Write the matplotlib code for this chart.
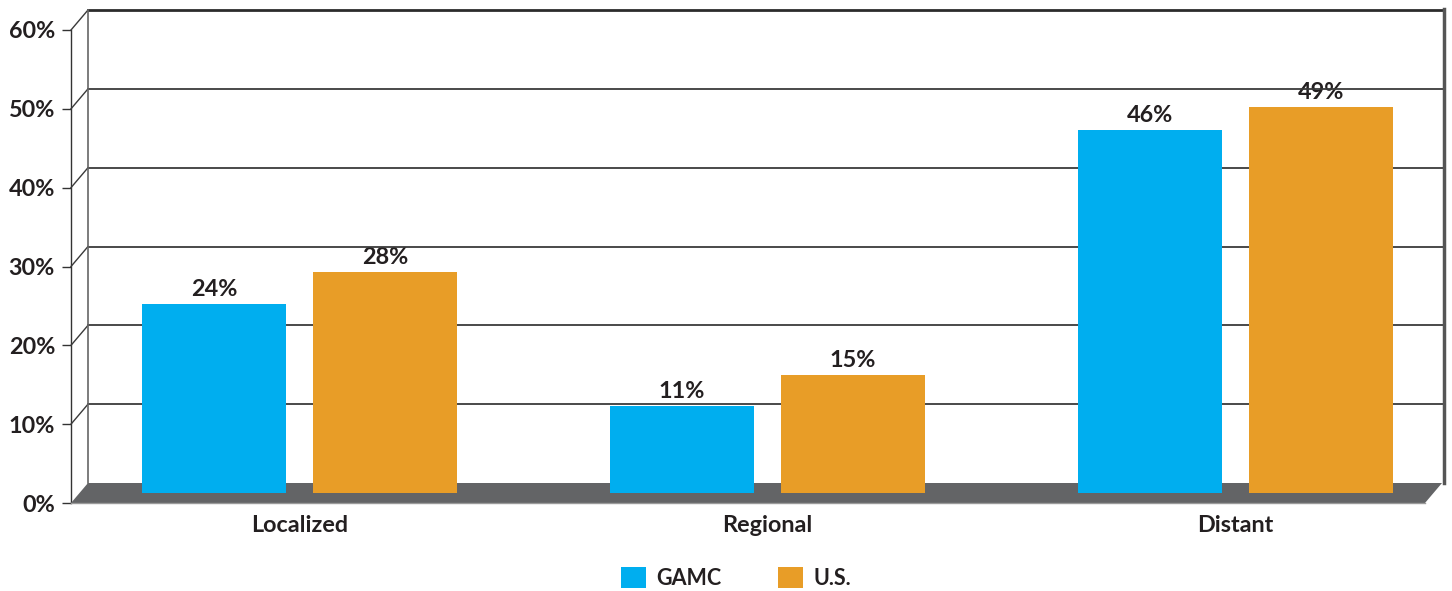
import matplotlib
matplotlib.use("Agg")
import matplotlib.pyplot as plt
from matplotlib.patches import Patch, Polygon
from matplotlib.lines import Line2D
from matplotlib.transforms import IdentityTransform
import numpy as np

categories = ["Localized", "Regional", "Distant"]
gamc = [24, 11, 46]
us = [28, 15, 49]
series = ["GAMC", "U.S."]
colors = ["#00AEEF", "#E89D27"]
yticks = [0, 10, 20, 30, 40, 50, 60]

plt.rcParams['font.family'] = ['Lato', 'DejaVu Sans']
plt.rcParams['font.weight'] = 'bold'
txt = "#231F20"
fs = 16.8

W, H = 1452, 591
fig = plt.figure(figsize=(W / 100, H / 100), dpi=100)
ax = fig.add_axes([71 / W, 1 - 503 / H, 1354 / W, 473 / H])
x0, x1 = -0.470, 2.423
ax.set_xlim(x0, x1)
ax.set_ylim(0, 60)
ax.patch.set_visible(False)
for s in ["top", "right", "bottom"]:
    ax.spines[s].set_visible(False)
ax.spines["left"].set_color("#333333")
ax.spines["left"].set_linewidth(1.0)
ax.set_xticks([])
ax.set_yticks(yticks)
ax.set_yticklabels([f"{t}%" for t in yticks], fontsize=fs, color=txt)
ax.tick_params(axis="y", length=6.5, width=1.0, color="#333333", pad=5)

# 3D depth offsets (pixels)
bdx, bdy = 17, 20
mdx, mdy = 8.5, 10

def px(x, y):
    return ax.transData.transform((x, y))

ident = IdentityTransform()

# floor
f0, f1 = px(x0, 0), px(x1, 0)
floor = Polygon([f0, f1, (f1[0] + bdx, f1[1] + bdy), (f0[0] + bdx, f0[1] + bdy)],
                closed=True, facecolor="#636466", edgecolor="none",
                transform=ident, zorder=1)
fig.add_artist(floor)
fig.add_artist(Line2D([f0[0], f1[0]], [f0[1], f1[1]], color="#9a9a9a", lw=1,
                      transform=ident, zorder=1))

# back wall grid and diagonals
for t in yticks[1:]:
    a, b = px(x0, t), px(x1, t)
    lw = 2.0 if t == 60 else 1.3
    col = "#2b2b2b" if t == 60 else "#3a3a3a"
    fig.add_artist(Line2D([a[0] + bdx, b[0] + bdx + 2], [a[1] + bdy, b[1] + bdy],
                          color=col, lw=lw, transform=ident, zorder=1))
    fig.add_artist(Line2D([a[0], a[0] + bdx], [a[1], a[1] + bdy],
                          color="#3a3a3a", lw=1.0, transform=ident, zorder=1))
# back wall verticals
a0, a6 = px(x0, 0), px(x0, 60)
fig.add_artist(Line2D([a0[0] + bdx] * 2, [a0[1] + bdy, a6[1] + bdy],
                      color="#666666", lw=1.2, transform=ident, zorder=1))
b0, b6 = px(x1, 0), px(x1, 60)
fig.add_artist(Line2D([b0[0] + bdx + 2] * 2, [b0[1] + bdy, b6[1] + bdy + 1],
                      color="#555555", lw=2.5, transform=ident, zorder=1))

# bars (mid-depth)
x = np.arange(len(categories))
bw = 0.308
shift = 0.183
for vals, c, off in [(gamc, colors[0], -shift), (us, colors[1], shift)]:
    for xi, v in zip(x + off, vals):
        p0 = px(xi - bw / 2, 0)
        p1 = px(xi + bw / 2, v)
        rect = plt.Rectangle((p0[0] + mdx, p0[1] + mdy), p1[0] - p0[0], p1[1] - p0[1],
                             facecolor=c, edgecolor="none", transform=ident, zorder=3)
        fig.add_artist(rect)
        ax.annotate(f"{v}%", xy=(xi, v), xytext=(mdx, mdy + 4), textcoords="offset pixels",
                    ha="center", va="bottom", fontsize=fs, color=txt,
                    annotation_clip=False, zorder=4)

for xi, cat in zip(x, categories):
    ax.annotate(cat, xy=(xi, 0), xytext=(mdx, -23), textcoords="offset pixels",
                ha="center", va="center", fontsize=fs, color=txt, annotation_clip=False)

handles = [Patch(facecolor=c, edgecolor="none", label=s) for c, s in zip(colors, series)]
fig.legend(handles=handles, loc="center", bbox_to_anchor=(736 / W, 1 - 578 / H), ncol=2,
           frameon=False, fontsize=15.5, handlelength=1.15, handleheight=1.15,
           handletextpad=0.5, columnspacing=2.6, labelcolor=txt)

fig.savefig("out.png", dpi=100)
